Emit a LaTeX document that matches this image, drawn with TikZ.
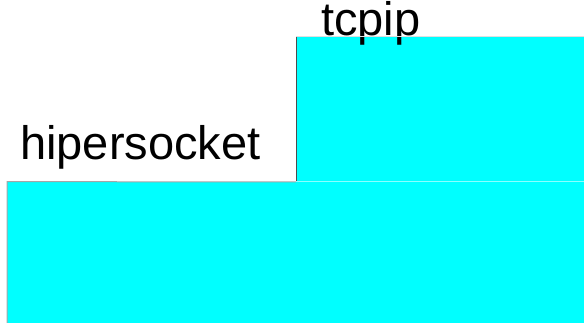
\documentclass[tikz,border=0pt]{standalone}
\usepackage{fontspec}
\setmainfont{Liberation Sans}
\usepackage{tikz}
\definecolor{aqua}{RGB}{0,255,255}

\begin{document}
\begin{tikzpicture}[x=1pt, y=1pt,
            box/.style={rectangle, fill=aqua, inner sep=0pt, anchor=south west},
            lbl/.style={font=\fontsize{47}{51}\selectfont, inner sep=0pt, anchor=base west}]
            \useasboundingbox (0,0) rectangle (584,324);
            % Nodes
            \node[box, minimum width=577pt, minimum height=141pt] (hiper) at (7,1) {};
            \node[box, minimum width=288pt, minimum height=145pt] (tcp) at (296,142) {};
            \node[lbl] (hiperlbl) at (20,164) {hipersocket};
            \node[lbl] (tcplbl) at (321,288) {tcpip};
            % Edges
            \draw[gray!70, line width=1pt] (hiper.south west) -- (hiper.north west) -- (tcp.south west);
            \draw[black!70, line width=1pt] (tcp.south west) -- (tcp.north west);
            \draw[gray!25, line width=0.8pt] (tcp.north west) -- (tcp.north east);
            \draw[aqua!45!white, line width=1pt] (tcp.south west) -- (tcp.south east);
        \end{tikzpicture}
\end{document}
